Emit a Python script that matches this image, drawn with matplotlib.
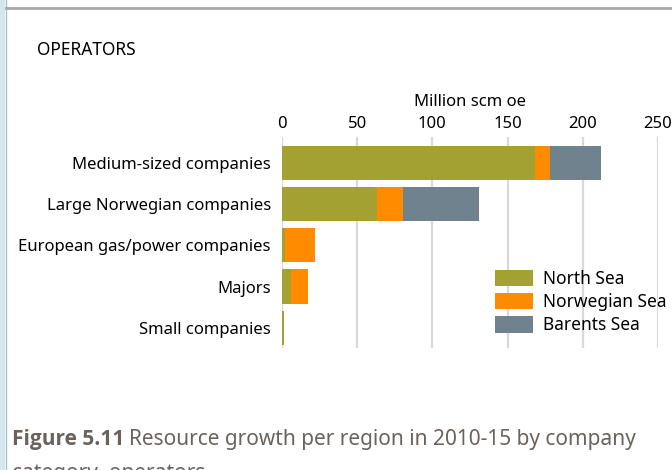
import matplotlib
matplotlib.use("Agg")
import matplotlib.pyplot as plt
from matplotlib.patches import Rectangle
from matplotlib.lines import Line2D

categories = ["Medium-sized companies", "Large Norwegian companies",
              "European gas/power companies", "Majors", "Small companies"]
north_sea = [168, 63, 2, 6, 1.3]
norwegian_sea = [10, 17.5, 20, 11.5, 0]
barents_sea = [34, 50.5, 0, 0, 0]
series = [("North Sea", north_sea, "#a2a132"),
          ("Norwegian Sea", norwegian_sea, "#ff8c00"),
          ("Barents Sea", barents_sea, "#6f828e")]
ticks = [0, 50, 100, 150, 200, 250]

plt.rcParams["font.family"] = ["Noto Sans", "DejaVu Sans"]

W, H = 672, 470
fig = plt.figure(figsize=(W / 100, H / 100), dpi=100)

# page decoration: blue margin on the left, grey rule at top
fig.patches.append(Rectangle((0, 0), 5 / W, 1, transform=fig.transFigure,
                             facecolor="#d4e6ee", edgecolor="none"))
fig.lines.append(Line2D([5.5 / W, 5.5 / W], [0, 1], transform=fig.transFigure,
                        color="#9cc3d3", lw=1))
fig.lines.append(Line2D([6 / W, 1], [1 - 7.5 / H, 1 - 7.5 / H], transform=fig.transFigure,
                        color="#a8a8a8", lw=2))

ax = fig.add_axes([282 / W, 1 - 348 / H, 376 / W, 211 / H])
y = list(range(len(categories)))
left = [0] * len(categories)
for name, vals, col in series:
    ax.barh(y, vals, left=left, height=0.83, color=col, label=name, zorder=2)
    left = [a + b for a, b in zip(left, vals)]

ax.set_xlim(0, 250)
ax.set_ylim(4.49, -0.63)
ax.set_xticks(ticks)
ax.xaxis.tick_top()
ax.xaxis.set_label_position("top")
ax.set_xlabel("Million scm oe", fontsize=12, labelpad=7)
ax.tick_params(axis="x", length=0, pad=3.5, labelsize=12)
ax.set_yticks(y)
ax.set_yticklabels(categories, fontsize=12)
ax.tick_params(axis="y", length=0, pad=8)
ax.grid(axis="x", color="#d9d9d9", lw=1.6, zorder=0)
for s in ax.spines.values():
    s.set_visible(False)

ax.legend(loc="upper left", bbox_to_anchor=(213 / 376, 1 - 133 / 211), frameon=False,
          fontsize=12.5, handlelength=2.2, handleheight=1.05, handletextpad=0.55,
          labelspacing=0.3, borderpad=0, borderaxespad=0)

fig.text(37 / W, 1 - 50 / H, "OPERATORS", fontsize=12.5, va="center", ha="left")
cap = fig.text(12 / W, 1 - 440 / H, "Figure 5.11", fontsize=15, fontweight="bold",
               family=["Open Sans", "DejaVu Sans"], color="#6b625c", va="center", ha="left")
fig.canvas.draw()
bb = cap.get_window_extent()
fig.text(bb.x1 / W + 5 / W, 1 - 440 / H, "Resource growth per region in 2010-15 by company",
         fontsize=15, color="#6b625c", va="center", ha="left")
fig.text(12 / W, 1 - 474 / H, "category, operators", fontsize=15, color="#6b625c",
         va="center", ha="left")

fig.savefig("out.png", dpi=100)
